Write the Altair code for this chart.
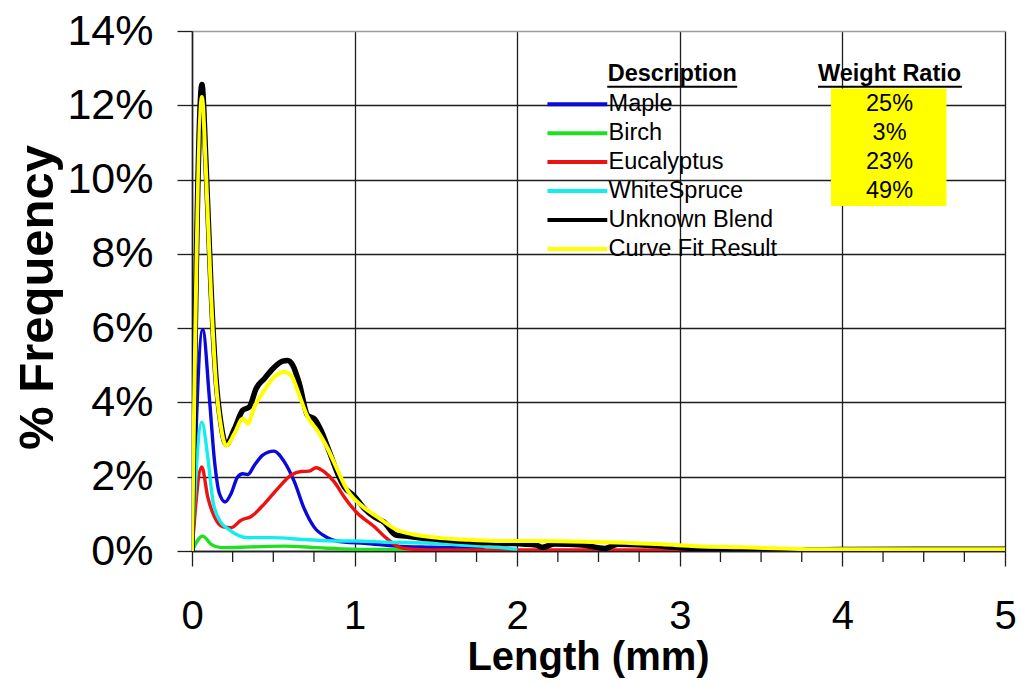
import altair as alt
import pandas as pd

# ---------------- data ----------------
maple_x = [0, 0.066, 0.108, 0.138, 0.169, 0.204, 0.24, 0.28, 0.312, 0.343, 0.384, 0.435, 0.503,
           0.568, 0.63, 0.69, 0.75, 0.834, 0.937, 1.06, 1.254, 1.47, 1.80]
maple_y = [0, 5.96, 4.06, 2.44, 1.54, 1.32, 1.54, 1.99, 2.08, 2.06, 2.31, 2.58, 2.69,
           2.40, 1.86, 1.14, 0.65, 0.36, 0.24, 0.21, 0.13, 0.10, 0.07]

birch_x = [0, 0.066, 0.118, 0.18, 0.364, 0.568, 0.77, 0.978, 1.18, 1.33]
birch_y = [0, 0.40, 0.18, 0.09, 0.11, 0.13, 0.09, 0.05, 0.04, 0.03]

euc_x = [0, 0.06, 0.097, 0.138, 0.19, 0.24, 0.302, 0.364, 0.445, 0.527, 0.609, 0.67, 0.722,
         0.763, 0.814, 0.875, 0.937, 1.01, 1.12, 1.197, 1.30, 1.45, 2.0, 3.0, 3.77]
euc_y = [0, 2.26, 1.45, 0.92, 0.65, 0.63, 0.83, 0.93, 1.27, 1.68, 2.04, 2.14, 2.15,
         2.24, 2.13, 1.86, 1.45, 1.05, 0.66, 0.34, 0.07, 0.03, 0.03, 0.03, 0.03]

spruce_x = [0, 0.06, 0.097, 0.128, 0.169, 0.23, 0.343, 0.486, 0.69, 0.875, 1.01, 1.18, 1.47, 1.78, 2.0]
spruce_y = [0, 3.47, 2.53, 1.36, 0.83, 0.57, 0.36, 0.36, 0.31, 0.27, 0.27, 0.24, 0.21, 0.13, 0.05]

blend_x = [0, 0.061, 0.086, 0.117, 0.147, 0.178, 0.21, 0.261, 0.312, 0.353, 0.394, 0.445, 0.507,
           0.558, 0.588, 0.62, 0.66, 0.711, 0.752, 0.793, 0.845, 0.896, 0.937, 0.998, 1.06, 1.12,
           1.18, 1.254, 1.316, 1.42, 1.52, 1.705, 1.91, 2.115, 2.156, 2.23, 2.40, 2.54, 2.62, 2.89,
           3.07, 3.28, 3.69, 4.0, 4.5, 5.0]
blend_y = [0, 12.56, 10.44, 7.08, 4.68, 3.43, 2.87, 3.29, 3.79, 3.88, 4.37, 4.64, 4.95,
           5.11, 5.13, 5.00, 4.51, 3.65, 3.56, 3.25, 2.67, 2.08, 1.72, 1.48, 1.14, 0.92,
           0.78, 0.43, 0.40, 0.34, 0.31, 0.25, 0.21, 0.16, 0.10, 0.19, 0.16, 0.07, 0.18, 0.13,
           0.07, 0.045, 0.03, 0.04, 0.05, 0.05]

fit_x = [0, 0.061, 0.086, 0.117, 0.147, 0.178, 0.21, 0.261, 0.312, 0.343, 0.384, 0.445, 0.507,
         0.568, 0.609, 0.66, 0.711, 0.77, 0.834, 0.896, 0.957, 1.04, 1.14, 1.254, 1.356, 1.50,
         1.665, 1.87, 2.156, 2.48, 2.89, 3.10, 3.38, 3.79, 4.0, 5.0]
fit_y = [0, 12.22, 10.2, 6.9, 4.55, 3.35, 2.83, 3.16, 3.56, 3.43, 3.88, 4.33, 4.69,
         4.82, 4.73, 4.19, 3.61, 3.25, 2.76, 2.17, 1.63, 1.23, 0.92, 0.58, 0.45, 0.36,
         0.31, 0.27, 0.27, 0.24, 0.18, 0.13, 0.10, 0.05, 0.045, 0.045]

series_names = ["Maple", "Birch", "Eucalyptus", "WhiteSpruce", "Unknown Blend", "Curve Fit Result"]
weight_ratios = ["25%", "3%", "23%", "49%"]

x_ticks = [0, 1, 2, 3, 4, 5]
x_minor_ticks = [0.25, 0.5, 0.75, 1.25, 1.5, 1.75, 2.25, 2.5, 2.75,
                 3.25, 3.5, 3.75, 4.25, 4.5, 4.75]
y_ticks = [0, 2, 4, 6, 8, 10, 12, 14]

# ---------------- styles ----------------
colors = ["#0a0ad8", "#1fe01f", "#ee1111", "#12eded", "#000000", "#ffff00"]
widths = [3.4, 3.4, 3.4, 3.4, 5.5, 4]
FONT = "Liberation Sans"
GRID = "#1e1e1e"

series_data = [(maple_x, maple_y), (birch_x, birch_y), (euc_x, euc_y),
               (spruce_x, spruce_y), (blend_x, blend_y), (fit_x, fit_y)]

rows = []
for name, (xs, ys) in zip(series_names, series_data):
    for xv, yv in zip(xs, ys):
        rows.append({"series": name, "length": xv, "freq": yv})
df = pd.DataFrame(rows)

x_scale = alt.Scale(domain=[0, 5], nice=False, zero=False)
y_scale = alt.Scale(domain=[0, 14], nice=False, zero=False)

x_axis = alt.Axis(
    values=x_ticks, title="Length (mm)", grid=True, gridColor=GRID, gridWidth=1.3,
    domainColor=GRID, domainWidth=1.5, tickColor=GRID, tickWidth=1.3, tickSize=15,
    labelFont=FONT, labelFontSize=40, labelColor="black", labelPadding=30,
    labelFlush=False, labelOverlap=False,
    titleFont=FONT, titleFontSize=40, titleFontWeight="bold", titleColor="black",
    titleX=396, titleY=106, titleBaseline="middle", titleAlign="center",
)
y_axis = alt.Axis(
    values=y_ticks, labelExpr="datum.value + '%'", title="% Frequency", grid=True,
    gridColor={"condition": {"test": "datum.value >= 14", "value": "#9c9c9c"}, "value": GRID},
    gridWidth=1.3, domainColor=GRID, domainWidth=1.5, tickColor=GRID, tickWidth=1.3, tickSize=15,
    labelFont=FONT, labelFontSize=43, labelColor="black", labelPadding=24, labelOverlap=False,
    titleFont=FONT, titleFontSize=49, titleFontWeight="bold", titleColor="black",
    titleAngle=270, titleX=-155, titleY=266, titleBaseline="middle", titleAlign="center",
)


def X(field):
    return alt.X(field, type="quantitative", scale=x_scale, axis=x_axis)


def Y(field):
    return alt.Y(field, type="quantitative", scale=y_scale, axis=y_axis)


layers = []

# minor ticks under the x axis
minor_df = pd.DataFrame({"length": x_minor_ticks})
layers.append(
    alt.Chart(minor_df).mark_rule(color=GRID, strokeWidth=1.3).encode(
        x=X("length"), y=alt.value(520), y2=alt.value(531)
    )
)

# data lines
for name, col, w in zip(series_names, colors, widths):
    layers.append(
        alt.Chart(df).transform_filter(alt.datum.series == name)
        .mark_line(color=col, strokeWidth=w, interpolate="monotone", strokeJoin="round", clip=True)
        .encode(x=X("length"), y=Y("freq"), order="length:Q")
    )

# ---------------- in-plot legend table ----------------
row_top, row_step = 12.03, 0.78
leg_df = pd.DataFrame({
    "label": series_names,
    "row": list(range(len(series_names))),
    "color": colors,
})
leg_df["y"] = row_top - leg_df["row"] * row_step
leg_df["x1"] = 2.186
leg_df["x2"] = 2.554
leg_df["tx"] = 2.562

layers.append(
    alt.Chart(leg_df).mark_rule(strokeWidth=4).encode(
        x=X("x1"), x2="x2", y=Y("y"),
        color=alt.Color("color:N", scale=None, legend=None),
    )
)
layers.append(
    alt.Chart(leg_df).mark_text(align="left", baseline="middle", font=FONT, fontSize=23.5, color="black")
    .encode(x=X("tx"), y=Y("y"), text="label:N")
)

# yellow weight box
box_df = pd.DataFrame({"x1": [3.93], "x2": [4.64], "y1": [9.29], "y2": [12.45]})
layers.append(
    alt.Chart(box_df).mark_rect(color="#ffff00").encode(x=X("x1"), x2="x2", y=Y("y1"), y2="y2")
)

ratio_df = pd.DataFrame({"ratio": weight_ratios, "row": list(range(len(weight_ratios)))})
ratio_df["y"] = row_top - ratio_df["row"] * row_step
ratio_df["x"] = 4.29
layers.append(
    alt.Chart(ratio_df).mark_text(align="center", baseline="middle", font=FONT, fontSize=23.5, color="black")
    .encode(x=X("x"), y=Y("y"), text="ratio:N")
)

# headers with underlines
head_df = pd.DataFrame({
    "text": ["Description", "Weight Ratio"],
    "x": [2.954, 4.29],
    "x1": [2.554, 3.85],
    "x2": [3.353, 4.735],
    "y": [12.83, 12.83],
    "uy": [12.50, 12.50],
})
layers.append(
    alt.Chart(head_df).mark_text(align="center", baseline="middle", font=FONT, fontSize=23.5,
                                 fontWeight="bold", color="black")
    .encode(x=X("x"), y=Y("y"), text="text:N")
)
layers.append(
    alt.Chart(head_df).mark_rule(color="black", strokeWidth=2).encode(x=X("x1"), x2="x2", y=Y("uy"))
)

chart = (
    alt.layer(*layers)
    .properties(
        width=813, height=520,
        autosize=alt.AutoSizeParams(type="none"),
        padding={"left": 184, "top": 23, "right": 11, "bottom": 127},
        background="white",
    )
    .configure_view(strokeWidth=0)
)

chart.save("out.html", embed_options={"renderer": "svg", "actions": False})
